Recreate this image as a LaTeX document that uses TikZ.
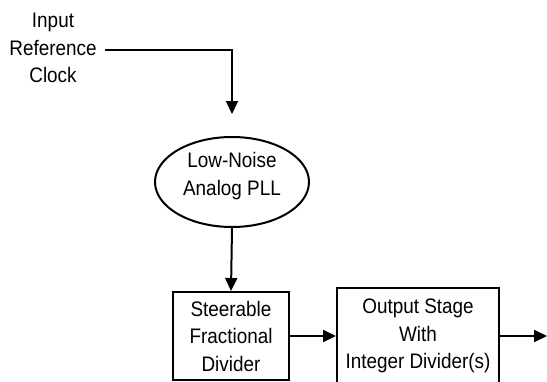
\documentclass[tikz,border=0pt]{standalone}
\usepackage{fontspec}
\setmainfont[FakeStretch=0.9]{Liberation Sans}
\usetikzlibrary{arrows.meta,shapes.geometric}

\tikzset{every picture/.style={line width=2pt}}
\tikzset{
  lbl/.style={align=center,inner sep=1pt,font=\fontsize{21}{27.5}\selectfont},
  blockbox/.style={lbl,draw,rectangle},
  flow/.style={-{Triangle[length=13pt,width=12pt]}}
}

\begin{document}
\begin{tikzpicture}[x=1pt,y=1pt,yscale=-1,xscale=1]
\useasboundingbox (0,0) rectangle (547,381);
\clip (0,0) rectangle (547,381);

% Text Node
\node (refclk) [lbl] at (53,48) {Input\\Reference\\Clock};
% Ellipse
\node (pll) [lbl,draw,ellipse,minimum width=154,minimum height=90] at (232,182) {Low-Noise\\Analog PLL\\[-11pt]};
% Boxes
\node (fracdiv) [blockbox,minimum width=116,minimum height=88] at (231,336) {Steerable\\Fractional\\Divider};
\node (outstage) [blockbox,minimum width=162,minimum height=96] at (418,336) {Output Stage\\With\\Integer Divider(s)};
\coordinate (clkout) at (547,336);

% Connectors
\draw [flow,shorten >=22pt] ([yshift=2pt,xshift=6pt]refclk.east) -| (pll.north);
\draw [flow] (pll.south) -- (fracdiv.north);
\draw [flow] (fracdiv.east) -- (outstage.west);
\draw [flow] (outstage.east) -- (clkout);

\end{tikzpicture}
\end{document}
